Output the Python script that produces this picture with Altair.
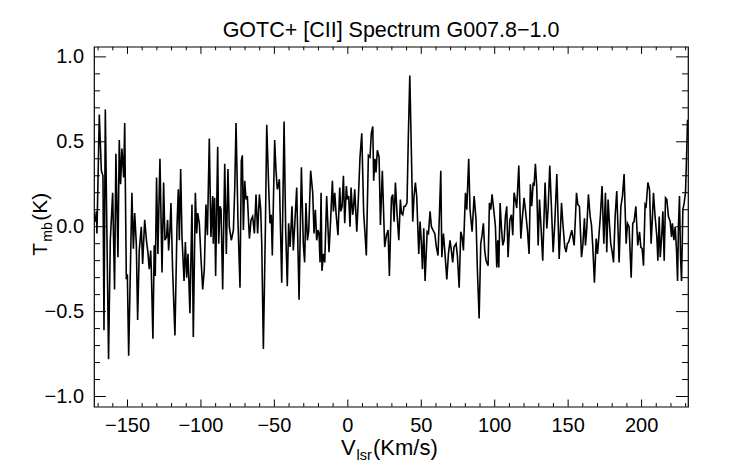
import altair as alt
import pandas as pd

TITLE = "GOTC+ [CII] Spectrum G007.8\u22121.0"
FONT = "Liberation Sans"

# spectrum (V_lsr km/s, T_mb K), segment by segment
seg1 = [(-173.1,0.08),(-171.9,0.03),(-171.2,0.09),(-170.8,-0.04),(-169.2,0.66),(-167.8,0.33),(-166.7,0.30),
        (-166.0,-0.61),(-165.1,0.69),(-162.9,-0.78),(-161.7,-0.08),(-160.1,0.20),(-158.8,-0.37),(-157.9,0.43),
        (-156.5,-0.18),(-155.6,0.51),(-154.7,0.25),(-153.8,0.46),(-152.6,0.29),(-151.9,0.61),(-150.8,-0.31),
        (-150.1,-0.28),(-149.2,-0.76),(-147.0,0.20),(-146.0,-0.13),(-145.1,0.08),(-144.0,-0.10),(-143.1,-0.55),
        (-142.0,-0.14),(-140.6,0.00),(-139.7,-0.22),(-138.3,0.04),(-137.0,-0.09),(-136.1,-0.15),(-135.2,-0.25),
        (-134.2,-0.14),(-133.8,-0.25),(-132.7,-0.66),(-131.8,-0.11),(-131.1,-0.29),(-130.2,0.29),(-129.3,-0.16),
        (-127.9,0.40),(-126.5,-0.27),(-125.4,0.26),(-124.5,-0.08),(-123.4,-0.06)]
seg2 = [(-122.7,0.04),(-122.0,-0.14),(-121.1,-0.02),(-120.4,0.14),(-119.3,-0.25),(-117.7,-0.64),(-116.3,0.00),
        (-115.4,0.22),(-114.7,-0.08),(-113.8,0.34),(-112.9,-0.06),(-111.5,-0.32),(-110.6,-0.09),(-109.7,-0.30),
        (-108.8,-0.16),(-107.5,-0.51),(-106.1,0.13),(-105.2,-0.65),(-103.8,0.20),(-102.9,-0.04),(-102.2,0.08),
        (-101.1,0.02),(-100.0,-0.18),(-98.8,-0.37),(-97.7,-0.25),(-96.6,0.13),(-95.6,-0.05),(-94.3,0.52),
        (-93.2,-0.06),(-92.0,0.18),(-91.6,-0.10),(-90.7,0.17),(-90.0,-0.29),(-88.6,0.47),(-87.9,-0.10),
        (-87.0,0.12),(-86.3,0.10),(-85.2,-0.37),(-83.8,0.37),(-82.7,-0.16),(-81.6,0.34),(-80.7,0.00),
        (-79.3,-0.08),(-77.9,-0.02),(-77.0,0.22),(-76.1,0.61),(-74.8,0.04),(-73.4,-0.36),(-72.5,0.39)]
seg3 = [(-71.8,0.42),(-71.1,-0.02),(-70.2,0.27),(-69.3,0.16),(-68.4,0.18),(-67.0,-0.07),(-65.9,0.04),
        (-64.8,0.06),(-63.6,-0.04),(-62.5,0.19),(-61.4,-0.04),(-60.2,0.19),(-59.3,0.10),(-58.6,-0.10),
        (-57.5,-0.72),(-56.1,0.00),(-55.2,0.60),(-53.9,0.24),(-53.0,0.02),(-52.1,0.07),(-51.4,-0.17),
        (-49.8,0.51),(-48.9,0.33),(-48.0,0.22),(-47.3,0.24),(-46.6,0.28),(-45.0,-0.33),(-43.4,0.62),
        (-42.3,-0.02),(-41.2,-0.35),(-40.3,0.02),(-39.3,-0.12),(-38.0,0.12),(-37.1,-0.14),(-36.2,0.00),
        (-34.8,0.23),(-33.2,-0.43),(-31.6,0.35),(-30.3,-0.10),(-29.4,-0.21),(-28.5,0.14),(-27.5,-0.08),
        (-26.6,-0.02),(-25.3,0.33),(-23.9,0.20),(-23.0,-0.04),(-22.1,0.10)]
seg4 = [(-21.6,0.00),(-21.2,-0.08),(-20.3,-0.02),(-19.6,-0.04),(-18.9,-0.21),(-18.2,0.20),(-17.6,-0.26),
        (-16.6,-0.16),(-15.7,-0.21),(-14.4,0.18),(-12.8,-0.15),(-11.7,0.04),(-10.5,0.27),(-9.8,0.09),
        (-8.9,0.20),(-8.0,0.08),(-6.7,-0.05),(-5.5,0.23),(-4.8,0.09),(-3.9,0.12),(-3.0,0.30),(-2.1,0.02),
        (-1.0,0.24),(-0.3,0.16),(0.6,0.18),(1.5,0.00),(2.2,0.23),(3.3,0.07),(3.8,0.10),(4.7,0.22),
        (6.1,-0.03),(7.2,0.17),(8.3,0.41),(9.5,0.55),(10.8,0.08),(11.7,-0.04),(12.6,-0.17),(14.0,0.42),
        (15.1,0.41),(16.0,0.55),(17.0,0.59),(17.6,0.27),(18.5,0.40),(19.2,0.32),(20.1,0.45),(21.3,0.41),
        (22.2,0.01),(23.5,0.33),(25.1,-0.12),(26.3,-0.05),(27.4,-0.02),(28.3,-0.29)]
seg5 = [(29.7,0.17),(30.6,0.19),(31.5,0.03),(32.4,0.26),(33.5,0.08),(34.7,-0.08),(35.8,0.16),(36.5,0.08),
        (37.4,0.07),(38.3,0.12),(39.2,0.12),(40.3,0.14),(41.2,0.53),(42.2,0.89),(43.3,0.43),(44.2,0.03),
        (45.1,0.18),(46.0,0.26),(46.9,0.18),(48.3,-0.16),(49.2,0.03),(50.1,-0.10),(50.8,-0.25),(51.7,-0.01),
        (52.6,-0.32),(54.0,-0.03),(54.9,-0.04),(56.0,0.09),(56.9,0.00),(58.0,-0.02),(59.2,-0.04),(60.3,-0.12),
        (61.4,-0.17),(62.4,0.08),(63.3,0.33),(64.0,-0.18),(65.1,-0.04),(66.0,-0.14),(67.4,-0.31),(68.5,-0.16),
        (69.6,-0.08),(70.5,-0.14),(71.4,-0.21),(72.3,-0.12),(73.7,-0.10),(74.6,-0.17),(75.8,-0.36),(76.9,-0.03),
        (77.8,-0.06),(78.7,-0.14)]
seg6 = [(80.1,0.20),(81.0,0.10),(82.3,0.40),(83.2,0.10),(84.6,-0.03),(86.0,0.18),(87.3,0.04),(88.2,-0.25),
        (89.4,-0.54),(90.5,-0.10),(91.4,-0.05),(92.3,0.02),(93.2,-0.14),(94.1,-0.20),(95.5,-0.23),(96.4,0.14),
        (97.3,0.10),(98.2,0.19),(99.6,0.08),(100.5,0.00),(101.4,-0.24),(102.1,-0.08),(102.8,-0.24),(103.7,0.14),
        (104.6,-0.01),(105.5,-0.11),(106.4,-0.08),(107.3,0.06),(108.2,0.12),(109.1,-0.18),(110.3,0.04),
        (111.4,0.07),(112.3,-0.05),(113.2,0.20),(114.1,0.16),(115.0,0.11),(116.4,0.36),(117.8,-0.07),
        (118.7,0.04),(120.0,0.17),(120.9,0.10),(122.3,-0.02),(123.4,-0.16),(124.3,0.25),(125.2,0.12),
        (126.2,0.26),(126.8,0.24),(127.7,0.37),(128.6,0.24),(129.6,-0.11)]
seg7 = [(130.5,0.16),(131.4,0.02),(132.7,-0.20),(134.3,0.26),(135.5,-0.01),(136.4,0.11),(137.5,0.36),
        (138.6,0.12),(139.8,-0.15),(140.9,0.02),(142.3,0.31),(143.9,-0.19),(145.5,0.14),(146.4,0.02),
        (147.7,-0.12),(148.6,-0.15),(149.5,-0.10),(150.4,-0.09),(151.6,-0.05),(152.5,-0.02),(153.2,-0.06),
        (154.1,-0.11),(155.0,0.06),(155.7,0.20),(156.6,0.13),(157.7,0.12),(159.1,-0.18),(160.0,-0.11),
        (161.1,0.05),(161.8,-0.11),(162.7,-0.01),(163.8,0.19),(165.0,0.06),(165.9,0.01),(166.8,-0.12),
        (167.9,-0.33),(169.1,-0.07),(170.0,-0.16),(170.9,-0.06),(172.0,0.07),(173.1,0.24),(174.3,-0.10),
        (175.4,0.20),(176.3,-0.15),(177.2,0.16),(178.1,0.02),(179.0,-0.10),(180.0,-0.15)]
seg8 = [(180.9,-0.21),(182.0,0.06),(183.1,0.21),(184.7,-0.21),(185.9,0.12),(187.0,0.18),(188.1,0.31),
        (189.5,-0.10),(190.4,0.02),(191.5,0.00),(192.9,-0.30),(194.0,0.02),(194.9,0.03),(196.1,0.12),
        (197.4,-0.11),(198.6,-0.03),(199.5,-0.12),(200.4,-0.13),(201.3,-0.23),(202.4,0.13),(203.1,0.12),
        (204.3,0.26),(205.4,0.22),(206.5,-0.10),(207.4,0.06),(208.1,0.20),(209.2,0.06),(210.4,-0.06),
        (211.1,-0.20),(212.0,0.06),(212.7,-0.18),(213.8,-0.04),(214.5,0.09),(215.4,-0.20),(216.3,0.17),
        (217.2,0.16),(218.3,0.06),(219.5,0.03),(220.4,-0.06),(221.0,0.02),(222.0,-0.08),(222.9,0.00),
        (223.8,-0.14),(224.5,-0.32),(225.1,0.00),(225.8,0.18),(226.5,-0.17),(227.2,-0.32),(228.1,0.10),
        (229.0,0.14),(229.9,0.20),(230.8,0.46),(231.3,0.63)]

x_major = [-150, -100, -50, 0, 50, 100, 150, 200]
x_major_labels = ["\u2212150", "\u2212100", "\u221250", "0", "50", "100", "150", "200"]
x_minor = [-170, -160, -140, -130, -120, -110, -90, -80, -70, -60, -40, -30, -20, -10,
           10, 20, 30, 40, 60, 70, 80, 90, 110, 120, 130, 140, 160, 170, 180, 190, 210, 220, 230]
y_major = [-1.0, -0.5, 0.0, 0.5, 1.0]
y_major_labels = ["\u22121.0", "\u22120.5", "0.0", "0.5", "1.0"]
y_minor = [-0.9, -0.8, -0.7, -0.6, -0.4, -0.3, -0.2, -0.1, 0.1, 0.2, 0.3, 0.4, 0.6, 0.7, 0.8, 0.9]

X_DOMAIN = [-172.8, 231.6]
Y_DOMAIN = [-1.06, 1.06]
W, H = 594, 360
XT_MAJ, XT_MIN = 7.2, 3.6     # tick lengths of x axis (vertical ticks)
YT_MAJ, YT_MIN = 11.9, 6.0    # tick lengths of y axis (horizontal ticks)
LABEL_SIZE = 20

df = pd.DataFrame(seg1 + seg2 + seg3 + seg4 + seg5 + seg6 + seg7 + seg8, columns=["v", "T"])

xs = alt.Scale(domain=X_DOMAIN, nice=False, zero=False)
ys = alt.Scale(domain=Y_DOMAIN, nice=False, zero=False)

line = alt.Chart(df).mark_line(color="black", strokeWidth=1.6, clip=True).encode(
    x=alt.X("v:Q", scale=xs, axis=None),
    y=alt.Y("T:Q", scale=ys, axis=None),
)


def xticks(vals, y0, y1):
    return alt.Chart(pd.DataFrame({"v": vals})).mark_rule(color="black", strokeWidth=1).encode(
        x=alt.X("v:Q", scale=xs, axis=None), y=alt.value(y0), y2=alt.value(y1))


def yticks(vals, x0, x1):
    return alt.Chart(pd.DataFrame({"T": vals})).mark_rule(color="black", strokeWidth=1).encode(
        y=alt.Y("T:Q", scale=ys, axis=None), x=alt.value(x0), x2=alt.value(x1))


ticks = [
    xticks(x_major, H, H - XT_MAJ), xticks(x_minor, H, H - XT_MIN),
    xticks(x_major, 0, XT_MAJ), xticks(x_minor, 0, XT_MIN),
    yticks(y_major, 0, YT_MAJ), yticks(y_minor, 0, YT_MIN),
    yticks(y_major, W, W - YT_MAJ), yticks(y_minor, W, W - YT_MIN),
]

xlab = alt.Chart(pd.DataFrame({"v": x_major, "lab": x_major_labels})).mark_text(
    align="center", baseline="top", fontSize=LABEL_SIZE, font=FONT, color="black"
).encode(x=alt.X("v:Q", scale=xs, axis=None), y=alt.value(H + 9), text="lab:N")

ylab = alt.Chart(pd.DataFrame({"T": y_major, "lab": y_major_labels})).mark_text(
    align="right", baseline="middle", fontSize=LABEL_SIZE, font=FONT, color="black"
).encode(y=alt.Y("T:Q", scale=ys, axis=None), x=alt.value(-10), text="lab:N")


def txt(s, x, y, size, angle=0):
    return alt.Chart(pd.DataFrame({"s": [s]})).mark_text(
        align="left", baseline="alphabetic", fontSize=size, font=FONT, color="black", angle=angle
    ).encode(text="s:N", x=alt.value(x), y=alt.value(y))


titles = [
    txt("V", 247, 408, 22), txt("lsr", 262.5, 413, 14.5), txt("(Km/s)", 279, 408, 22),
    txt("T", -47, 209, 21, 270), txt("mb", -42, 195, 14, 270), txt("(K)", -47, 174, 21, 270),
]

chart = alt.layer(line, *ticks, xlab, ylab, *titles).properties(
    width=W, height=H,
    title=alt.TitleParams(TITLE, fontSize=21.5, font=FONT, fontWeight="normal", color="black",
                          anchor="middle", offset=5),
    autosize=alt.AutoSizeParams(type="none"),
    padding={"left": 86, "top": 38.7, "right": 40, "bottom": 56},
).configure_view(stroke="black", strokeWidth=1.2)

chart.save("out.html", embed_options={"renderer": "svg", "actions": False})
